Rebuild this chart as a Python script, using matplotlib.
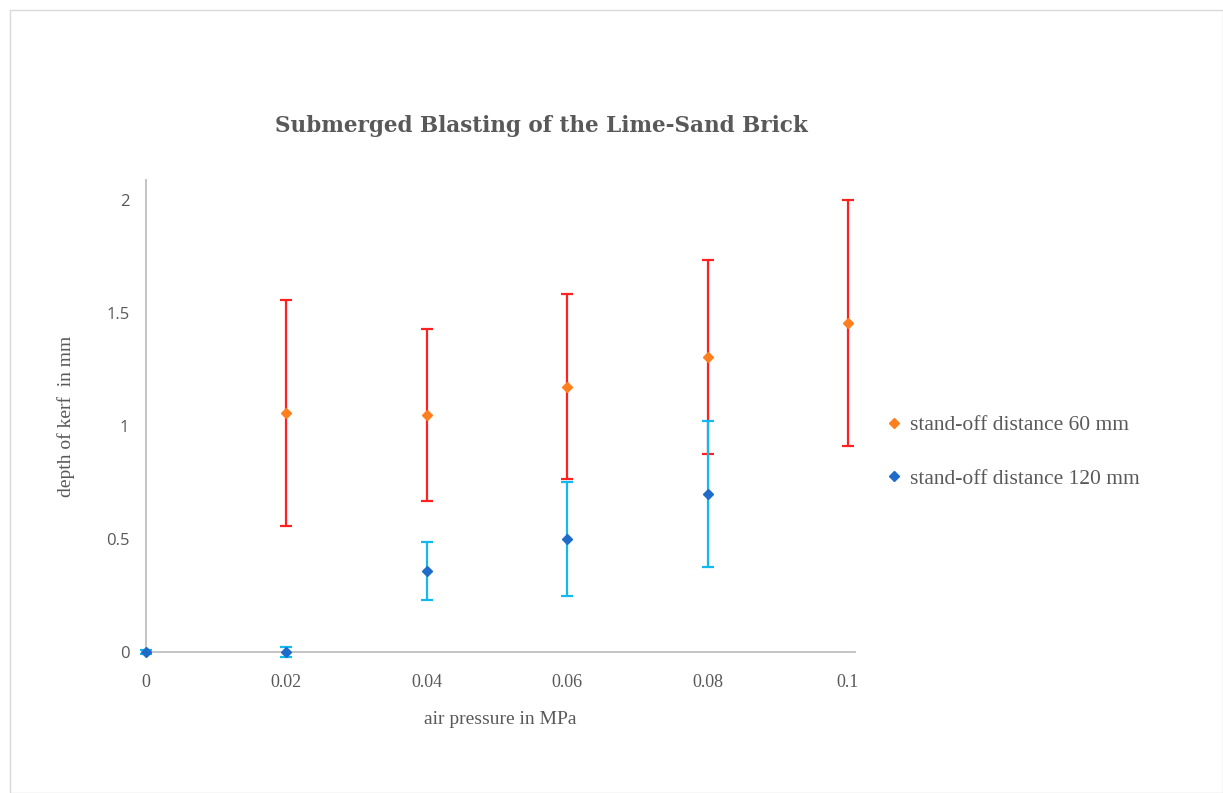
import matplotlib
matplotlib.use("Agg")
import matplotlib.pyplot as plt
from matplotlib.lines import Line2D
from matplotlib.patches import Rectangle

# Data
pressure_60 = [0.02, 0.04, 0.06, 0.08, 0.10]
depth_60 = [1.06, 1.05, 1.175, 1.305, 1.458]
err_60 = [0.50, 0.38, 0.41, 0.43, 0.545]

pressure_120 = [0.0, 0.02, 0.04, 0.06, 0.08]
depth_120 = [0.0, 0.0, 0.36, 0.50, 0.70]
err_120 = [0.01, 0.02, 0.128, 0.254, 0.322]

xticks = [0, 0.02, 0.04, 0.06, 0.08, 0.1]
xticklabels = ["0", "0.02", "0.04", "0.06", "0.08", "0.1"]
yticks = [0, 0.5, 1, 1.5, 2]
yticklabels = ["0", "0.5", "1", "1.5", "2"]

title = "Submerged Blasting of the Lime-Sand Brick"
xlabel = "air pressure in MPa"
ylabel = "depth of kerf  in mm"
labels = ["stand-off distance 60 mm", "stand-off distance 120 mm"]

W, H = 1223, 793
fig = plt.figure(figsize=(W / 100, H / 100), dpi=100)
fig.patches.append(Rectangle((10 / W, 0), 1 - 10 / W, 1 - 10 / H, transform=fig.transFigure,
                             fill=False, edgecolor="#d9d9d9", linewidth=1.0))

ax = fig.add_axes([146 / W, 1 - 652 / H, (855 - 146) / W, (652 - 180) / H])

gray = "#595959"
axis_col = "#bfbfbf"

ax.errorbar(pressure_60, depth_60, yerr=err_60, fmt="D", color="#FF7F1E", ms=5.5,
            ecolor="#FF2020", elinewidth=1.6, capsize=4, capthick=1.6, clip_on=False, zorder=3)
ax.errorbar(pressure_120, depth_120, yerr=err_120, fmt="D", color="#1E6BC8", ms=5.5,
            ecolor="#12B8F0", elinewidth=1.6, capsize=4, capthick=1.6, clip_on=False, zorder=4)

ax.set_xlim(0, 0.101)
ax.set_ylim(0, 2.09)
ax.set_xticks(xticks)
ax.set_xticklabels(xticklabels, fontfamily="Liberation Serif", fontsize=13, color=gray)
ax.set_yticks(yticks)
ax.set_yticklabels(yticklabels, fontfamily="Open Sans", fontsize=12, color=gray)
ax.tick_params(length=0, pad=12)
ax.tick_params(axis="x", pad=16)

for s in ["top", "right"]:
    ax.spines[s].set_visible(False)
for s in ["left", "bottom"]:
    ax.spines[s].set_color(axis_col)
    ax.spines[s].set_linewidth(1.3)

ax.set_xlabel(xlabel, fontfamily="Liberation Serif", fontsize=14, color=gray, labelpad=14)
ax.set_ylabel(ylabel, fontfamily="Liberation Serif", fontsize=14, color=gray, labelpad=22)

fig.text(541 / W, 1 - 126 / H, title, ha="center", va="center", fontfamily="DejaVu Serif",
         fontsize=15.5, fontweight="bold", color=gray)

handles = [Line2D([], [], marker="D", linestyle="none", color="#FF7F1E", ms=5),
           Line2D([], [], marker="D", linestyle="none", color="#1E6BC8", ms=5)]
leg = fig.legend(handles, labels, loc="upper left", bbox_to_anchor=(869 / W, 1 - 396 / H),
                 frameon=False, prop={"family": "Liberation Serif", "size": 15.5},
                 labelspacing=1.55, handlelength=0.55, handletextpad=0.45, labelcolor=gray)

fig.savefig("out.png", dpi=100)
